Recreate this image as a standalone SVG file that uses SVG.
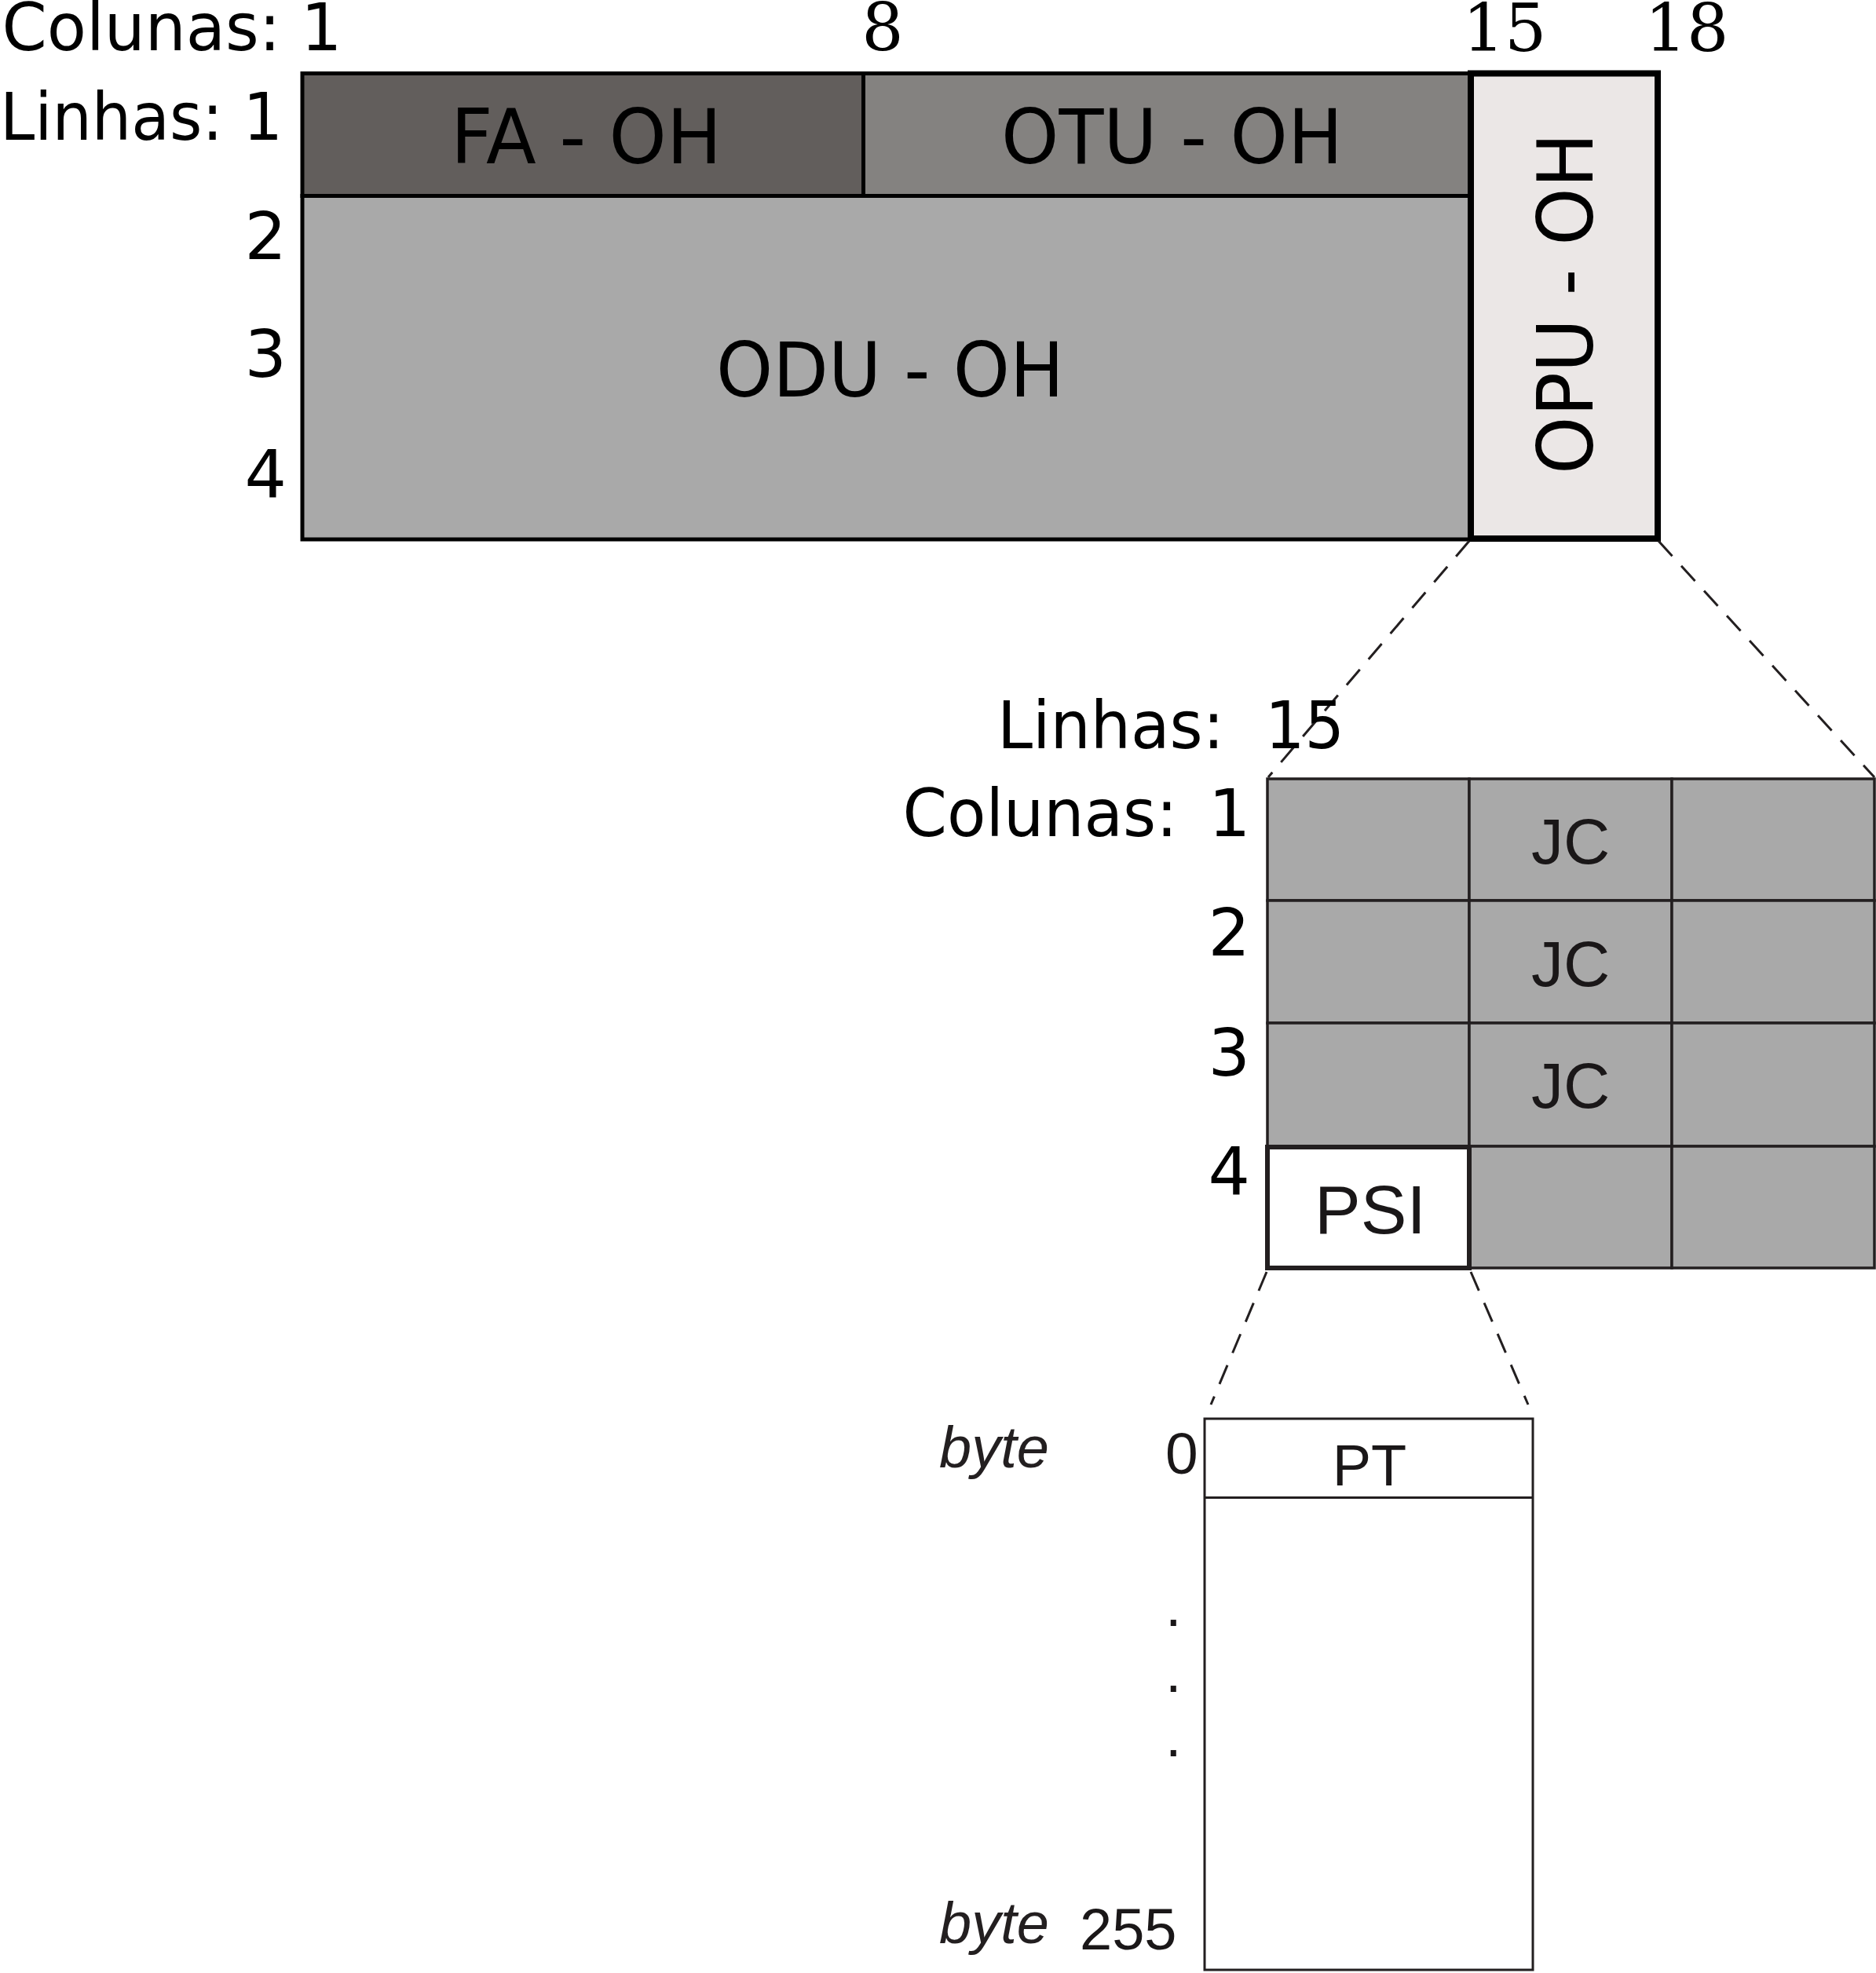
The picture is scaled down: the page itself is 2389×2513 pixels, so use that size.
<svg xmlns="http://www.w3.org/2000/svg" width="2389" height="2513" viewBox="0 0 2389 2513">
  <style>
    .lbl { font-family: "DejaVu Sans", Verdana, sans-serif; font-size: 84px; fill: #000; }
    .num { font-family: "DejaVu Serif", "Liberation Serif", serif; font-size: 84px; fill: #000; }
    .box { font-family: "DejaVu Sans", Verdana, sans-serif; font-size: 96px; fill: #000; }
    .ar { font-family: "Liberation Sans", Arial, sans-serif; fill: #1a1718; }
    .it { font-family: "Liberation Sans", Arial, sans-serif; font-style: italic; font-size: 74px; fill: #231f20; }
    .cell { fill: #a9a9a9; stroke: #231f20; stroke-width: 3.5; }
    .dash { fill: none; stroke: #231f20; stroke-width: 3; stroke-dasharray: 26 17; }
  </style>

  <!-- Header labels -->
  <g id="header-labels">
    <text class="lbl" x="2.5" y="64" textLength="433" lengthAdjust="spacingAndGlyphs">Colunas: 1</text>
    <text class="lbl" x="0" y="178" textLength="360" lengthAdjust="spacingAndGlyphs">Linhas: 1</text>
    <text class="num" x="1124" y="64" text-anchor="middle">8</text>
    <text class="num" x="1916" y="65" text-anchor="middle">15</text>
    <text class="num" x="2148" y="65" text-anchor="middle">18</text>
    <text class="lbl" x="365" y="330" text-anchor="end">2</text>
    <text class="lbl" x="365" y="480" text-anchor="end">3</text>
    <text class="lbl" x="365" y="633" text-anchor="end">4</text>
  </g>

  <!-- Top frame -->
  <g id="fa-oh">
    <rect x="385" y="93.5" width="714.5" height="156" fill="#625e5c" stroke="#000" stroke-width="5"/>
    <text class="box" x="574" y="208" textLength="345" lengthAdjust="spacingAndGlyphs">FA - OH</text>
  </g>
  <g id="otu-oh">
    <rect x="1099.5" y="93.5" width="773.5" height="156" fill="#848280" stroke="#000" stroke-width="5"/>
    <text class="box" x="1275" y="207.5" textLength="435" lengthAdjust="spacingAndGlyphs">OTU - OH</text>
  </g>
  <g id="odu-oh">
    <rect x="385" y="249.5" width="1488" height="437.5" fill="#a9a9a9" stroke="#000" stroke-width="5"/>
    <text class="box" x="912" y="505" textLength="443" lengthAdjust="spacingAndGlyphs">ODU - OH</text>
  </g>
  <g id="opu-oh">
    <rect x="1873" y="93.5" width="238" height="592.5" fill="#ebe7e6" stroke="#000" stroke-width="8"/>
    <text class="box" transform="translate(2028,604) rotate(-90)" x="0" y="0" textLength="435" lengthAdjust="spacingAndGlyphs" style="font-size:98px">OPU - OH</text>
  </g>

  <!-- Connectors -->
  <g id="connectors">
    <line class="dash" x1="1871" y1="689" x2="1615" y2="990"/>
    <line class="dash" x1="2112" y1="689" x2="2387" y2="990"/>
    <line class="dash" x1="1613" y1="1620" x2="1542" y2="1789"/>
    <line class="dash" x1="1873" y1="1620" x2="1946" y2="1789"/>
  </g>

  <!-- OPU overhead detail labels -->
  <g id="opu-labels">
    <text class="lbl" x="1270" y="953"><tspan x="1270" textLength="289" lengthAdjust="spacingAndGlyphs">Linhas:</tspan><tspan x="1611" textLength="101" lengthAdjust="spacingAndGlyphs">15</tspan></text>
    <text class="lbl" x="1149.5" y="1065"><tspan x="1149.5" textLength="350" lengthAdjust="spacingAndGlyphs">Colunas:</tspan><tspan x="1539">1</tspan></text>
    <text class="lbl" x="1592" y="1217" text-anchor="end">2</text>
    <text class="lbl" x="1592" y="1370" text-anchor="end">3</text>
    <text class="lbl" x="1592" y="1521" text-anchor="end">4</text>
  </g>

  <!-- OPU overhead grid -->
  <g id="opu-grid">
    <rect class="cell" x="1614" y="992" width="257" height="155"/>
    <rect class="cell" x="1871" y="992" width="258" height="155"/>
    <rect class="cell" x="2129" y="992" width="258" height="155"/>
    <rect class="cell" x="1614" y="1147" width="257" height="156"/>
    <rect class="cell" x="1871" y="1147" width="258" height="156"/>
    <rect class="cell" x="2129" y="1147" width="258" height="156"/>
    <rect class="cell" x="1614" y="1303" width="257" height="157"/>
    <rect class="cell" x="1871" y="1303" width="258" height="157"/>
    <rect class="cell" x="2129" y="1303" width="258" height="157"/>
    <rect class="cell" x="1871" y="1460" width="258" height="155"/>
    <rect class="cell" x="2129" y="1460" width="258" height="155"/>
  </g>
  <g id="jc-1"><text class="ar" font-size="82" x="2000" y="1100" text-anchor="middle">JC</text></g>
  <g id="jc-2"><text class="ar" font-size="82" x="2000" y="1256" text-anchor="middle">JC</text></g>
  <g id="jc-3"><text class="ar" font-size="82" x="2000" y="1411" text-anchor="middle">JC</text></g>
  <g id="psi">
    <rect x="1614" y="1461" width="257" height="154" fill="#fff" stroke="#231f20" stroke-width="6"/>
    <text class="ar" font-size="88" x="1745" y="1571" text-anchor="middle">PSI</text>
  </g>

  <!-- PSI detail -->
  <g id="psi-bytes">
    <rect x="1534" y="1807" width="418" height="702" fill="#fff" stroke="#231f20" stroke-width="3"/>
    <line x1="1534" y1="1907.5" x2="1952" y2="1907.5" stroke="#231f20" stroke-width="3"/>
    <text class="ar" font-size="74" x="1744" y="1892" text-anchor="middle">PT</text>
  </g>
  <g id="byte-labels">
    <text class="it" x="1196" y="1869">byte</text>
    <text class="ar" font-size="75" x="1484" y="1877">0</text>
    <text class="ar" font-size="74" x="1484" y="2071">.</text>
    <text class="ar" font-size="74" x="1484" y="2155">.</text>
    <text class="ar" font-size="74" x="1484" y="2237">.</text>
    <text class="it" x="1196" y="2475">byte</text>
    <text class="ar" font-size="74" x="1375" y="2483">255</text>
  </g>
</svg>
